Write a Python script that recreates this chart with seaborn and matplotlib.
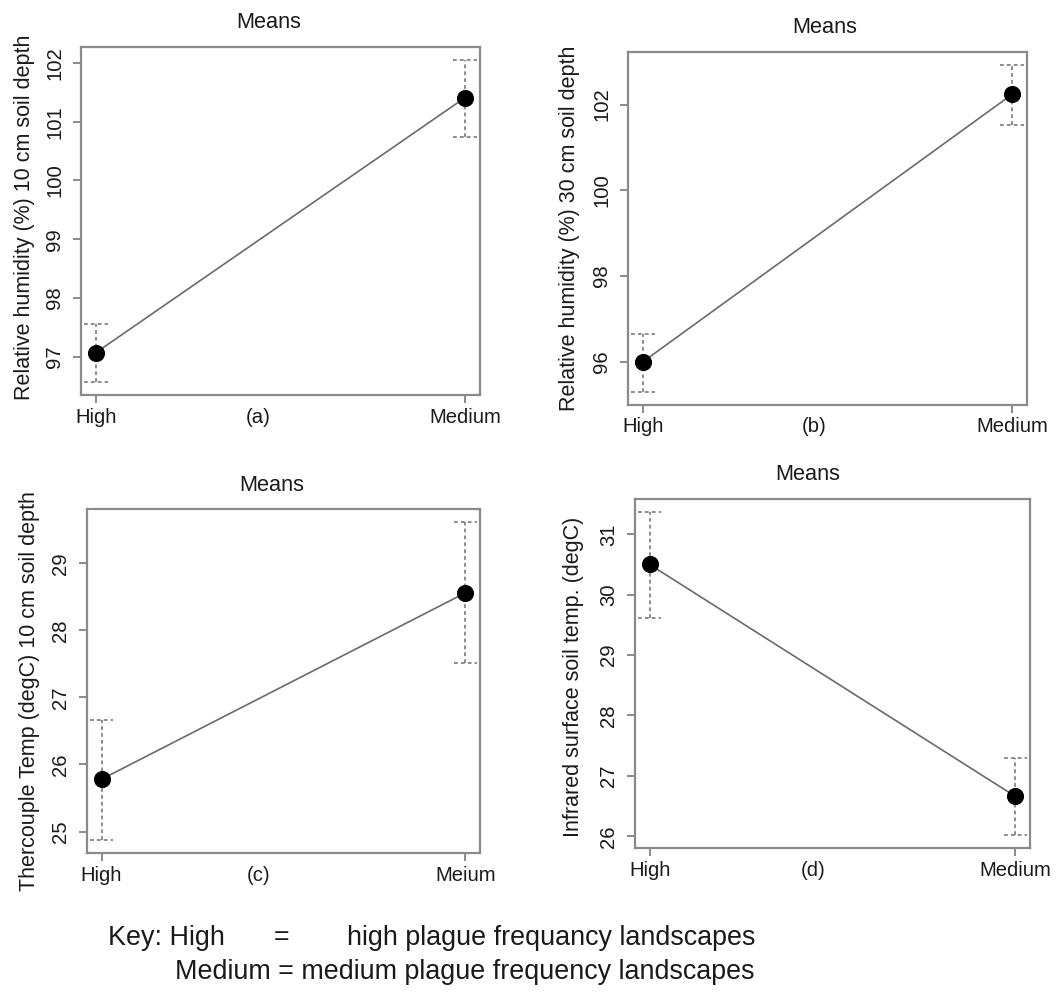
import numpy as np
import pandas as pd
import seaborn as sns
import matplotlib
matplotlib.use("Agg")
import matplotlib.pyplot as plt

# ---------------- data ----------------
categories_ab = ["High", "Medium"]
categories_c = ["High", "Meium"]
categories_d = ["High", "Medium"]

rh10_mean = [97.07, 101.41]
rh10_low = [96.57, 100.74]
rh10_high = [97.55, 102.05]

rh30_mean = [96.00, 102.24]
rh30_low = [95.30, 101.53]
rh30_high = [96.66, 102.92]

tc10_mean = [25.78, 28.56]
tc10_low = [24.87, 27.52]
tc10_high = [26.67, 29.62]

ir_mean = [30.50, 26.66]
ir_low = [29.61, 26.02]
ir_high = [31.37, 27.30]

yticks_a = [97, 98, 99, 100, 101, 102]
yticks_b = [96, 98, 100, 102]
yticks_c = [25, 26, 27, 28, 29]
yticks_d = [26, 27, 28, 29, 30, 31]

ylabels = ["Relative humidity (%) 10 cm soil depth",
           "Relative humidity (%) 30 cm soil depth",
           "Thercouple Temp (degC) 10 cm soil depth",
           "Infrared surface soil temp. (degC)"]
panel_tags = ["(a)", "(b)", "(c)", "(d)"]
key_lines = ["Key: High", "=", "high plague frequancy landscapes",
             "Medium = medium plague frequency landscapes"]

# ---------------- style ----------------
sns.set_theme(style="white")
plt.rcParams["font.family"] = ["Liberation Sans", "DejaVu Sans"]

TXT = "#1a1a1a"
W, H = 1062, 996
fig = plt.figure(figsize=(W / 100, H / 100), dpi=100)

# axes boxes in pixels: left, top, right, bottom
boxes = [(81, 47, 480, 395), (628, 52, 1027, 405),
         (87, 509, 480, 853), (635, 499, 1030, 848)]
tag_x = [0.444, 0.467, 0.437, 0.452]
title_x = [0.47, 0.494, 0.471, 0.437]
ylab_off = [56, 59, 58, 61]
ylab_y = [0.51, 0.5, 0.47, 0.49]

panels = [
    (categories_ab, rh10_mean, rh10_low, rh10_high, yticks_a),
    (categories_ab, rh30_mean, rh30_low, rh30_high, yticks_b),
    (categories_c, tc10_mean, tc10_low, tc10_high, yticks_c),
    (categories_d, ir_mean, ir_low, ir_high, yticks_d),
]

for i, (cats, mean, low, high, yt) in enumerate(panels):
    l, t, r, b = boxes[i]
    ax = fig.add_axes([l / W, 1 - b / H, (r - l) / W, (b - t) / H])
    wpx, hpx = r - l, b - t
    pos = np.arange(len(cats))
    df = pd.DataFrame({"x": pos, "y": mean})
    sns.lineplot(data=df, x="x", y="y", ax=ax, color="#6a6a6a", lw=1.2,
                 zorder=2)
    ax.vlines(pos, low, high, colors="#6f6f6f", linestyles=(0, (2.5, 2)),
              lw=1.1, zorder=1)
    cw = 0.032
    ax.hlines(low, pos - cw, pos + cw, colors="#6f6f6f",
              linestyles=(0, (2.5, 2)), lw=1.1, zorder=1)
    ax.hlines(high, pos - cw, pos + cw, colors="#6f6f6f",
              linestyles=(0, (2.5, 2)), lw=1.1, zorder=1)
    sns.scatterplot(data=df, x="x", y="y", ax=ax, color="black", s=130,
                    edgecolor="black", zorder=3)

    lo, hi = min(low), max(high)
    rng = hi - lo
    ax.set_ylim(lo - 0.04 * rng, hi + 0.04 * rng)
    ax.set_xlim(-0.04, 1.04)
    ax.set_xticks(pos)
    ax.set_xticklabels(cats)
    ax.set_yticks(yt)
    ax.set_yticklabels([str(v) for v in yt], rotation=90, va="center")
    ax.set_xlabel("")
    ax.set_ylabel("")
    ax.tick_params(axis="both", length=6, width=1.2, color="#777777",
                   labelsize=14.6, labelcolor=TXT, direction="out",
                   left=True, bottom=True)
    ax.tick_params(axis="x", pad=3)
    ax.tick_params(axis="y", pad=6)
    for s in ax.spines.values():
        s.set_color("#8a8a8a")
        s.set_linewidth(1.6)
    ax.set_facecolor("white")

    ax.text(title_x[i], 1 + 24 / hpx, "Means", transform=ax.transAxes,
            ha="center", va="center", fontsize=15.7, color=TXT)
    ax.text(tag_x[i], -22 / hpx, panel_tags[i], transform=ax.transAxes,
            ha="center", va="center", fontsize=14.6, color=TXT)
    ax.text(-ylab_off[i] / wpx, ylab_y[i], ylabels[i], transform=ax.transAxes,
            ha="center", va="center", rotation=90, fontsize=15.5, color=TXT)

fig.text(108 / W, 1 - 938 / H, key_lines[0], ha="left", va="center",
         fontsize=19.4, color=TXT)
fig.text(282 / W, 1 - 938 / H, key_lines[1], ha="center", va="center",
         fontsize=19.4, color=TXT)
fig.text(347 / W, 1 - 938 / H, key_lines[2], ha="left", va="center",
         fontsize=19.4, color=TXT)
fig.text(175 / W, 1 - 972 / H, key_lines[3], ha="left", va="center",
         fontsize=19.4, color=TXT)

fig.savefig("out.png", dpi=100, facecolor="white")
